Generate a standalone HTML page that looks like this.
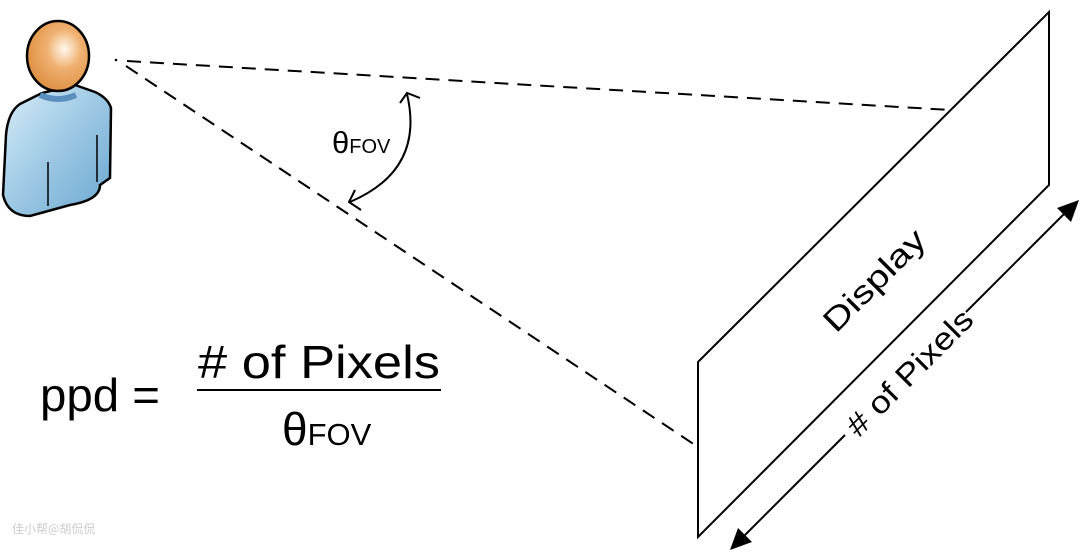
<!DOCTYPE html>
<html><head><meta charset="utf-8"><style>
body{margin:0;background:#fff;width:1080px;height:552px;overflow:hidden}
svg{display:block}
text{font-family:"Liberation Sans","DejaVu Sans",sans-serif;fill:#000}
</style></head><body>
<svg width="1080" height="552" viewBox="0 0 1080 552" xmlns="http://www.w3.org/2000/svg">
<defs>
<radialGradient id="hg" cx="0.6" cy="0.4" r="0.7"><stop offset="0" stop-color="#fff8ee"/><stop offset="0.4" stop-color="#f0b070"/><stop offset="1" stop-color="#d98a3a"/></radialGradient>
<linearGradient id="bg" x1="0" y1="0" x2="1" y2="1"><stop offset="0" stop-color="#d8eef8"/><stop offset="0.5" stop-color="#9cc8e4"/><stop offset="1" stop-color="#6aa6d0"/></linearGradient>
</defs>
<path d="M42,93 L20,104 Q8,112 6,135 L3,195 Q8,216 30,216 L70,205 Q100,200 100,185 L110,178 L111,108 Q108,98 95,92 L75,85 Z" fill="url(#bg)" stroke="#000" stroke-width="2.5"/>
<path d="M40,95 Q58,103 76,95" fill="none" stroke="#5a90c0" stroke-width="6"/>
<line x1="48" y1="162" x2="48" y2="206" stroke="#000" stroke-width="1.5"/>
<line x1="97" y1="135" x2="97" y2="182" stroke="#000" stroke-width="1.5"/>
<ellipse cx="58" cy="56" rx="31" ry="35" fill="url(#hg)" stroke="#000" stroke-width="2.5"/>
<line x1="127" y1="61" x2="950" y2="110" stroke="#000" stroke-width="2" stroke-dasharray="14,9"/>
<line x1="126" y1="66" x2="698" y2="447" stroke="#000" stroke-width="2" stroke-dasharray="14,9"/>
<circle cx="116" cy="60" r="1.3"/>
<path d="M407,94 Q425,170 350,202" fill="none" stroke="#000" stroke-width="2"/>
<path d="M400,103 L407,93 L420,98" fill="none" stroke="#000" stroke-width="2"/>
<path d="M355,190 L349,202 L361,210" fill="none" stroke="#000" stroke-width="2"/>
<text x="332" y="153" font-size="31">θ<tspan font-size="20">FOV</tspan></text>
<path d="M698,362 L1049,12 L1049,185 L698,537 Z" fill="none" stroke="#000" stroke-width="2"/>
<text font-size="32" transform="translate(882,288) rotate(-45)" text-anchor="middle" textLength="130" lengthAdjust="spacingAndGlyphs">Display</text>
<line x1="845" y1="435" x2="742" y2="538" stroke="#000" stroke-width="2"/>
<path d="M730,550 L738,528 L752,542 Z"/>
<line x1="966" y1="312" x2="1068" y2="210" stroke="#000" stroke-width="2"/>
<path d="M1079,200 L1071,222 L1057,208 Z"/>
<text font-size="31" transform="translate(917,380) rotate(-45)" text-anchor="middle" textLength="165" lengthAdjust="spacingAndGlyphs"># of Pixels</text>
<text x="40" y="411" font-size="46" textLength="120" lengthAdjust="spacingAndGlyphs">ppd =</text>
<text x="198" y="378" font-size="46" textLength="242" lengthAdjust="spacingAndGlyphs"># of Pixels</text>
<line x1="197" y1="390" x2="441" y2="390" stroke="#000" stroke-width="2"/>
<text x="282" y="445" font-size="46">θ<tspan font-size="31">FOV</tspan></text>
<text x="12" y="533" font-size="12" style="fill:#ccc;font-family:'Noto Sans CJK SC',sans-serif">佳小帮@胡侃侃</text>
</svg>
</body></html>
